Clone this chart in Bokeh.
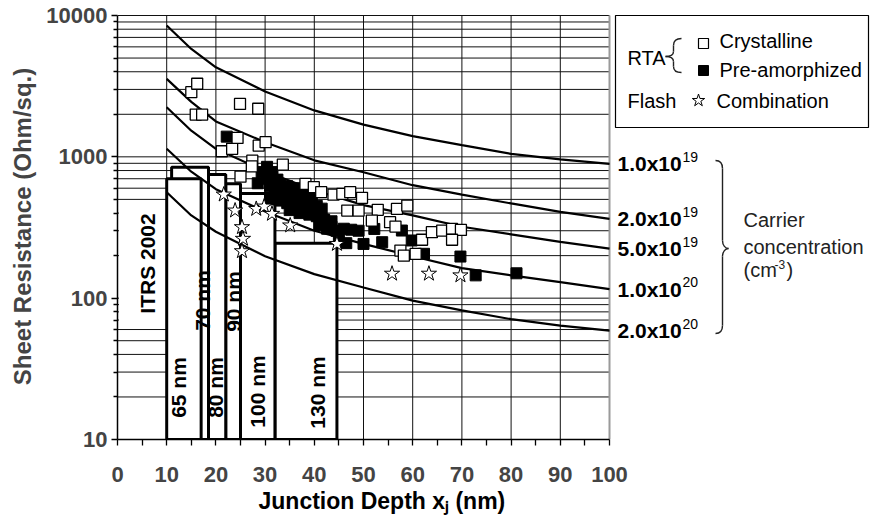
from math import pi
from bokeh.plotting import figure
from bokeh.models import Range1d, FixedTicker, PrintfTickFormatter, Label, Title
from bokeh.embed import file_html
from bokeh.resources import INLINE

# ---------------- data ----------------
depth_nm = [10, 15, 20, 30, 40, 50, 60, 70, 80, 90, 100]
rs_n1e19 = [8490, 5800, 4300, 2900, 2130, 1690, 1400, 1210, 1050, 960, 892]
rs_n2e19 = [3560, 2450, 1780, 1270, 945, 778, 630, 540, 468, 408, 364]
rs_n5e19 = [2245, 1530, 1140, 790, 580, 455, 385, 320, 283, 250, 224]
rs_n1e20 = [1140, 785, 590, 410, 300, 242, 198, 163, 145, 130, 116]
rs_n2e20 = [562, 385, 295, 198, 148, 119, 96, 82, 71, 64, 59]
conc_mantissa = ["1.0x10", "2.0x10", "5.0x10", "1.0x10", "2.0x10"]
conc_exponent = ["19", "19", "19", "20", "20"]

itrs_node = ["65 nm", "70 nm", "80 nm", "90 nm", "100 nm", "130 nm"]
itrs_xj_min = [10, 11, 17.5, 22, 25, 32]
itrs_xj_max = [17, 18.5, 22, 25, 32, 44.6]
itrs_rs_max = [700, 845, 750, 645, 550, 245]

cryst_xj = [15.0, 16.2, 15.9, 17.2, 24.9, 28.6, 21.2, 23.3, 24.4, 28.7, 30.1, 27.4,
            27.3, 25.0, 33.6, 38.2, 39.9, 41.4, 43.9, 45.7, 47.3, 49.7, 46.7, 49.0,
            52.9, 56.8, 58.9, 51.7, 55.4, 56.5, 61.9, 63.9, 66.0, 68.0, 69.8, 68.0,
            57.5, 58.2, 60.6]
cryst_rs = [2870, 3290, 1990, 1990, 2370, 2190, 1095, 1140, 1360, 1200, 1270, 940,
            855, 724, 880, 643, 610, 562, 540, 547, 562, 513, 417, 417,
            422, 428, 452, 354, 345, 321, 259, 293, 301, 309, 304, 259,
            217, 200, 206]

preamo_xj = [22.2, 30.4, 29.3, 31.5, 28.5, 30.5, 32.5, 31.0, 33.0, 34.5, 36.0, 37.5,
             32.0, 33.5, 35.0, 36.5, 38.0, 39.5, 31.0, 33.0, 34.5, 36.0, 37.5, 39.0,
             40.5, 41.5, 35.0, 37.0, 39.0, 40.5, 42.0, 43.5, 41.0, 42.6, 44.5, 46.0,
             47.5, 49.0, 43.5, 45.0, 46.5, 50.0, 52.2, 53.8, 57.8, 59.8, 62.3, 69.7,
             72.8, 81.1]
preamo_rs = [1390, 850, 780, 780, 650, 700, 690, 620, 640, 620, 600, 590,
             560, 560, 540, 530, 520, 510, 500, 490, 470, 460, 450, 440,
             450, 430, 420, 400, 390, 380, 360, 350, 330, 310, 300, 310,
             305, 300, 320, 260, 245, 242, 309, 249, 301, 256, 206, 197,
             145, 150]

flash_xj = [21.6, 23.9, 28.2, 29.8, 31.4, 35.1, 25.3, 25.5, 25.3, 44.6, 55.8, 63.3, 69.7]
flash_rs = [541, 417, 428, 445, 395, 327, 318, 263, 215, 242, 149, 149, 145]

# ---------------- layout helpers (canvas px -> data) ----------------
FL, FR, FT, FB = 117, 873, 13, 439
PX_PER_X = 4.92
DEC = 141.33
X_END = (FR - FL) / PX_PER_X
Y_TOP = 10 ** (1 + (FB - FT) / DEC)


def X(px):
    return (px - FL) / PX_PER_X


def Y(py):
    return 10 ** (1 + (FB - py) / DEC)


FONT = "Liberation Sans"

p = figure(width=873, height=523, x_range=Range1d(0, X_END), y_range=Range1d(10, Y_TOP),
           y_axis_type="log", output_backend="svg", toolbar_location=None,
           min_border_left=FL, min_border_right=0, min_border_top=FT, min_border_bottom=523 - FB)
p.outline_line_color = None
p.xgrid.visible = False
p.ygrid.visible = False
p.background_fill_color = "white"
p.border_fill_color = "white"

# axes
xa = p.xaxis[0]
xa.ticker = FixedTicker(ticks=list(range(0, 101, 10)), minor_ticks=list(range(5, 100, 10)))
xa.bounds = (0, 100)
xa.axis_line_width = 1.5
xa.major_tick_out = 6
xa.major_tick_in = 0
xa.minor_tick_out = 6
xa.minor_tick_in = 0
xa.major_tick_line_width = 1.3
xa.minor_tick_line_width = 1.3
xa.major_label_text_font = FONT
xa.major_label_text_font_size = "22px"
xa.major_label_text_font_style = "bold"
xa.major_label_standoff = 21

# x-axis title, placed under the axis (starts ~141 px right of the frame's left edge)
p.add_layout(Title(text="Junction Depth x\u2c7c (nm)", align="left", offset=141,
                   text_font=FONT, text_font_size="23px", text_font_style="bold",
                   text_color="black", standoff=2), "below")

decades = [10, 100, 1000]
minor_vals = [k * d for d in decades for k in range(2, 10)]
ya = p.yaxis[0]
ya.ticker = FixedTicker(ticks=[10, 100, 1000, 10000], minor_ticks=minor_vals)
ya.formatter = PrintfTickFormatter(format="%d")
ya.bounds = (10, 10000)
ya.axis_line_width = 1.5
ya.major_tick_out = 6
ya.major_tick_in = 0
ya.minor_tick_out = 4
ya.minor_tick_in = 0
ya.major_tick_line_width = 1.3
ya.minor_tick_line_width = 1.3
ya.major_label_text_font = FONT
ya.major_label_text_font_size = "22px"
ya.major_label_text_font_style = "bold"
ya.major_label_standoff = 4
ya.axis_label = "Sheet Resistance (Ohm/sq.)"
ya.axis_label_text_font = FONT
ya.axis_label_text_font_size = "24px"
ya.axis_label_text_font_style = "bold"
ya.axis_label_standoff = 7

# grid lines (drawn by hand so they stop at x = 100)
hgrid = [v for d in decades for v in [k * d for k in range(1, 10)] if v > 10] + [10000]
p.segment(x0=[0] * len(hgrid), x1=[100] * len(hgrid), y0=hgrid, y1=hgrid,
          line_color="#111111", line_width=1)
vgrid = list(range(10, 100, 10))
p.segment(x0=vgrid, x1=vgrid, y0=[10] * len(vgrid), y1=[10000] * len(vgrid),
          line_color="#111111", line_width=1)
p.segment(x0=[100], x1=[100], y0=[10], y1=[10000], line_color="#9a9a9a", line_width=2)

# white patch behind the "ITRS 2002" text
p.quad(left=[0.3], right=[10], bottom=[Y(324)], top=[Y(206)],
       fill_color="white", line_color=None)

# ITRS boxes (back to front: 130 nm first, 65 nm last)
order = list(range(len(itrs_node)))[::-1]
p.quad(left=[itrs_xj_min[i] for i in order], right=[itrs_xj_max[i] for i in order],
       bottom=[10] * len(order), top=[itrs_rs_max[i] for i in order],
       fill_color="white", line_color="black", line_width=3)

# box labels
box_label_pos = {"65 nm": (178, 387), "70 nm": (202, 300), "80 nm": (215, 387),
                 "90 nm": (233, 301), "100 nm": (257, 391), "130 nm": (317, 392)}
for name in itrs_node:
    bx, by = box_label_pos[name]
    p.add_layout(Label(x=X(bx), y=Y(by), text=name, angle=pi / 2, text_align="center",
                       text_baseline="middle", text_font=FONT, text_font_size="21px",
                       text_font_style="bold", text_color="black"))
p.add_layout(Label(x=X(147), y=Y(263), text="ITRS 2002", angle=pi / 2, text_align="center",
                   text_baseline="middle", text_font=FONT, text_font_size="21px",
                   text_font_style="bold", text_color="black"))

# constant-concentration curves
curves = [rs_n1e19, rs_n2e19, rs_n5e19, rs_n1e20, rs_n2e20]
for rs in curves:
    p.line(depth_nm, rs, line_color="black", line_width=2.2)

# data points
p.scatter(preamo_xj, preamo_rs, marker="square", size=11, fill_color="black",
          line_color="black", line_width=1)
p.scatter(cryst_xj, cryst_rs, marker="square", size=11, fill_color="white",
          line_color="black", line_width=1.3)
p.scatter(flash_xj, flash_rs, marker="star", size=16, fill_color="white",
          line_color="black", line_width=1)

# curve labels at the right end of each curve
for rs, mant, expo in zip(curves, conc_mantissa, conc_exponent):
    p.add_layout(Label(x=depth_nm[-1], y=rs[-1], x_offset=8, text=mant, text_align="left",
                       text_baseline="middle", text_font=FONT, text_font_size="21px",
                       text_font_style="bold", text_color="black"))
    p.add_layout(Label(x=depth_nm[-1], y=rs[-1], x_offset=73, y_offset=7, text=expo,
                       text_align="left", text_baseline="middle", text_font=FONT,
                       text_font_size="14px", text_color="black"))


# braces
def brace(segs):
    for (x0, y0), (cx0, cy0), (cx1, cy1), (x1, y1) in segs:
        p.bezier(x0=[X(x0)], y0=[Y(y0)], x1=[X(x1)], y1=[Y(y1)], cx0=[X(cx0)], cy0=[Y(cy0)],
                 cx1=[X(cx1)], cy1=[Y(cy1)], line_color="#222222", line_width=1.4)


brace([((715, 160), (719, 160), (722, 162), (722, 168)),
       ((722, 168), (722, 200), (722, 210), (722, 240)),
       ((722, 240), (722, 245), (725, 248), (728, 248)),
       ((728, 248), (725, 248), (722, 251), (722, 256)),
       ((722, 256), (722, 280), (722, 300), (722, 325)),
       ((722, 325), (722, 331), (719, 333), (715, 333))])
for txt, py in [("Carrier", 219), ("concentration", 246), ("(cm", 269)]:
    p.add_layout(Label(x=X(743), y=Y(py), text=txt, text_align="left", text_baseline="middle",
                       text_font=FONT, text_font_size="20px", text_color="#222222"))
p.add_layout(Label(x=X(743), y=Y(269), x_offset=31, y_offset=5, text="-3", text_align="left",
                   text_baseline="middle", text_font=FONT, text_font_size="12px",
                   text_color="#222222"))
p.add_layout(Label(x=X(743), y=Y(269), x_offset=43, text=")", text_align="left",
                   text_baseline="middle", text_font=FONT, text_font_size="20px",
                   text_color="#222222"))

# legend box
p.quad(left=[X(615)], right=[X(868)], top=[Y(15)], bottom=[Y(127)], fill_color="white",
       line_color="black", line_width=1.2)
p.scatter([X(703)], [Y(43)], marker="square", size=10, fill_color="white", line_color="black",
          line_width=1.2)
p.scatter([X(703)], [Y(70)], marker="square", size=10, fill_color="black", line_color="black")
p.scatter([X(698)], [Y(100)], marker="star", size=13, fill_color="white", line_color="black",
          line_width=1)
for txt, px, py in [("RTA", 627, 57), ("Flash", 627, 100), ("Crystalline", 719, 40),
                    ("Pre-amorphized", 719, 69), ("Combination", 716, 100)]:
    p.add_layout(Label(x=X(px), y=Y(py), text=txt, text_align="left", text_baseline="middle",
                       text_font=FONT, text_font_size="20px", text_color="black"))
brace([((681, 38), (676, 38), (673, 40), (673, 45)),
       ((673, 45), (673, 48), (673, 50), (673, 51)),
       ((673, 51), (673, 55), (670, 56), (665, 56)),
       ((665, 56), (670, 56), (673, 57), (673, 61)),
       ((673, 61), (673, 63), (673, 64), (673, 66)),
       ((673, 66), (673, 70), (676, 72), (681, 72))])

open("out.html", "w").write(file_html(p, INLINE))
